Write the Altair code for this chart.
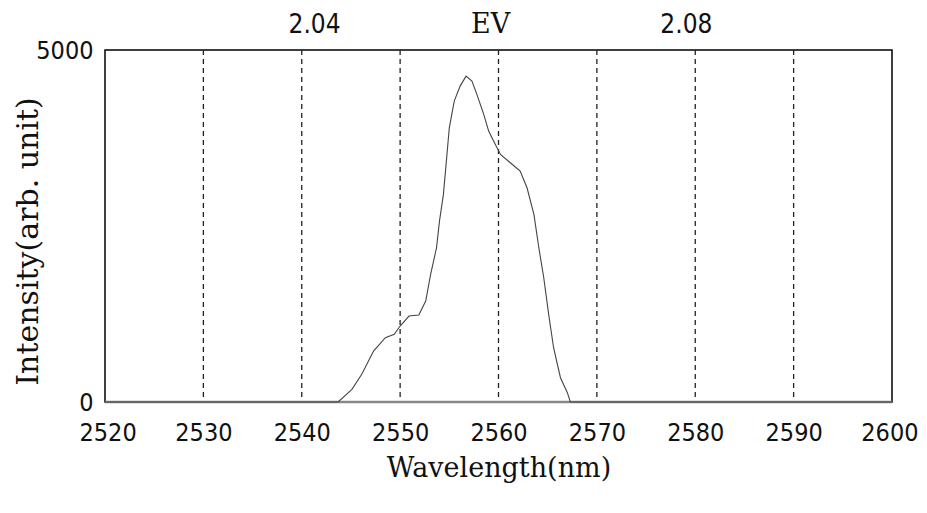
import altair as alt
import pandas as pd

# Spectrum
wavelength = [2520, 2543.7, 2545.1, 2546.1, 2547.3, 2548.5, 2549.4, 2550.0, 2550.9, 2551.9,
              2552.6, 2553.1, 2553.7, 2554.0, 2554.4, 2554.7, 2555.0, 2555.5, 2556.1, 2556.7,
              2557.3, 2557.8, 2558.5, 2559.0, 2559.5, 2560.2, 2561.2, 2562.2, 2562.9, 2563.6,
              2564.1, 2564.6, 2565.1, 2565.6, 2566.3, 2567.0, 2567.3, 2600]
intensity = [0, 0, 180, 393, 724, 913, 961, 1079, 1221, 1235,
             1434, 1813, 2191, 2570, 2949, 3422, 3895, 4274, 4487, 4629,
             4558, 4369, 4085, 3848, 3706, 3517, 3398, 3280, 3043, 2665,
             2191, 1765, 1245, 771, 345, 132, 0, 0]

x_ticks = [2520, 2530, 2540, 2550, 2560, 2570, 2580, 2590, 2600]
y_ticks = [0, 5000]
grid_lines = [2530, 2540, 2550, 2560, 2570, 2580, 2590]

top_num_labels = ["2.04", "2.08"]
top_num_pos = [2541.3, 2579.1]
top_unit_label = ["EV"]
top_unit_pos = [2559.2]

spec = pd.DataFrame({"wl": wavelength, "I": intensity})
grid = pd.DataFrame({"g": grid_lines})
tops_num = pd.DataFrame({"pos": top_num_pos, "label": top_num_labels})
tops_unit = pd.DataFrame({"pos": top_unit_pos, "label": top_unit_label})

tick_font = "DejaVu Sans Condensed, DejaVu Sans"
serif = "DejaVu Serif"

xscale = alt.Scale(domain=[2520, 2600], nice=False, zero=False)
yscale = alt.Scale(domain=[0, 5000], nice=False)

line = alt.Chart(spec).mark_line(color="#444444", strokeWidth=1.1).encode(
    x=alt.X("wl:Q", scale=xscale,
            axis=alt.Axis(values=x_ticks, format="d", grid=False, ticks=False, domain=False,
                          labelFont=tick_font, labelFontSize=25, labelColor="#111",
                          labelPadding=18, labelFlush=True, labelFlushOffset=26,
                          title="Wavelength(nm)", titleFont=serif, titleFontSize=27,
                          titleFontWeight="normal", titleColor="#111", titlePadding=10)),
    y=alt.Y("I:Q", scale=yscale,
            axis=alt.Axis(values=y_ticks, format="d", grid=False, ticks=False, domain=False,
                          labelFont=tick_font, labelFontSize=25, labelColor="#111",
                          labelPadding=12, labelFlush=False,
                          title="Intensity(arb. unit)", titleFont=serif, titleFontSize=30,
                          titleFontWeight="normal", titleColor="#111",
                          titleX=-77, titleY=191, titleAlign="center", titleBaseline="middle",
                          titleAngle=270)),
)

rules = alt.Chart(grid).mark_rule(color="#222", strokeWidth=1.3, strokeDash=[5, 4]).encode(
    x=alt.X("g:Q", scale=xscale)
)

baseline = alt.Chart(pd.DataFrame({"a": [2520], "b": [2600], "z": [0]})).mark_rule(
    color="#888", strokeWidth=2.5).encode(
    x=alt.X("a:Q", scale=xscale), x2="b:Q", y=alt.Y("z:Q", scale=yscale)
)

texts_num = alt.Chart(tops_num).mark_text(fontSize=26, color="#111", baseline="middle",
                                          align="center", font=tick_font).encode(
    x=alt.X("pos:Q", scale=xscale), y=alt.value(-25), text="label:N",
)
texts_unit = alt.Chart(tops_unit).mark_text(fontSize=27, color="#111", baseline="middle",
                                            align="center", font=serif).encode(
    x=alt.X("pos:Q", scale=xscale), y=alt.value(-25), text="label:N",
)

chart = alt.layer(rules, baseline, line, texts_num, texts_unit).properties(
    width=787, height=352,
    autosize=alt.AutoSizeParams(type="none"),
    padding={"left": 97, "top": 42, "right": 27, "bottom": 90},
    background="white",
).configure_view(stroke="black", strokeWidth=1.5)

chart.save("out.html", embed_options={"renderer": "svg", "actions": False})
